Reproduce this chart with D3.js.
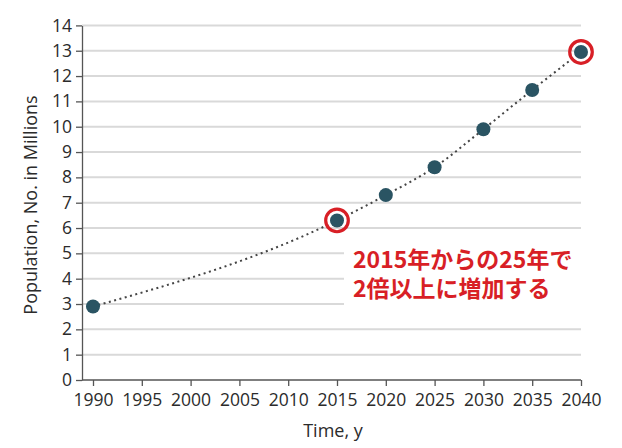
<!DOCTYPE html>
<html><head><meta charset="utf-8">
<script src="https://cdn.jsdelivr.net/npm/d3@7"></script>
<style>
html,body{margin:0;padding:0;background:#fff;}
svg{display:block;}
.tick text{font-family:"Open Sans","Noto Sans",sans-serif;font-size:17.5px;fill:#2b2b2b;}
</style></head>
<body><svg id="c" width="622" height="448"></svg>
<script>
const years = [1990, 2015, 2020, 2025, 2030, 2035, 2040];
const population = [2.9, 6.3, 7.3, 8.4, 9.9, 11.45, 12.95];
const highlighted = [2015, 2040];
const xTicks = [1990, 1995, 2000, 2005, 2010, 2015, 2020, 2025, 2030, 2035, 2040];
const yTicks = [0,1,2,3,4,5,6,7,8,9,10,11,12,13,14];
const annotation = ["2015年からの25年で", "2倍以上に増加する"];
const xTitle = "Time, y";
const yTitle = "Population, No. in Millions";

const svg = d3.select("#c");
const axisX0 = 82, plotRight = 581, plotBottom = 380, plotTop = 25.4;
const x = d3.scaleLinear().domain([1990, 2040]).range([93, plotRight]);
const y = d3.scaleLinear().domain([0, 14]).range([plotBottom, plotTop]);
const font = '"Open Sans","Noto Sans",sans-serif';

// gridlines
svg.append("g").selectAll("line").data(yTicks.filter(d => d > 0)).join("line")
  .attr("x1", axisX0).attr("x2", plotRight)
  .attr("y1", d => y(d)).attr("y2", d => y(d))
  .attr("stroke", "#d9d9d9").attr("stroke-width", 2);

// annotation box covering gridlines
svg.append("rect").attr("x", 344).attr("y", 236).attr("width", 260).attr("height", 82).attr("fill", "#fff");
const ann = svg.append("text").attr("font-family", '"Noto Sans CJK JP",sans-serif')
  .attr("font-weight", "bold").attr("font-size", 23).attr("fill", "#d81f26");
annotation.forEach((t, i) => ann.append("tspan").attr("x", 353).attr("y", 268 + i * 28.5).text(t));

// axes
const yAxis = svg.append("g").attr("transform", `translate(${axisX0},0)`)
  .call(d3.axisLeft(y).tickValues(yTicks).tickSize(6).tickSizeOuter(0).tickPadding(4));
yAxis.selectAll("path,line").attr("stroke", "#555").attr("stroke-width", 1.3);

const xAxis = svg.append("g").attr("transform", `translate(0,${plotBottom})`)
  .call(d3.axisBottom(x).tickValues(xTicks).tickFormat(d3.format("d")).tickSize(6).tickPadding(8));
xAxis.select(".domain").remove();
xAxis.selectAll("line").attr("stroke", "#555").attr("stroke-width", 1.3);
svg.append("line").attr("x1", axisX0).attr("x2", plotRight).attr("y1", plotBottom).attr("y2", plotBottom)
  .attr("stroke", "#555").attr("stroke-width", 1.3);

// titles
svg.append("text").attr("x", 333).attr("y", 437).attr("text-anchor", "middle")
  .attr("font-family", font).attr("font-size", 18).attr("fill", "#2b2b2b").text(xTitle);
svg.append("text").attr("transform", "translate(37,205) rotate(-90)").attr("text-anchor", "middle")
  .attr("font-family", font).attr("font-size", 18).attr("fill", "#2b2b2b").text(yTitle);

// dotted curve
const pts = years.map((yr, i) => [yr, population[i]]);
svg.append("path").datum(pts)
  .attr("d", d3.line().x(d => x(d[0])).y(d => y(d[1])).curve(d3.curveMonotoneX))
  .attr("fill", "none").attr("stroke", "#444").attr("stroke-width", 2)
  .attr("stroke-dasharray", "2,3.5");

// points
svg.append("g").selectAll("circle").data(pts).join("circle")
  .attr("cx", d => x(d[0])).attr("cy", d => y(d[1])).attr("r", 7)
  .attr("fill", "#2a5463");

// highlight rings
svg.append("g").selectAll("circle").data(pts.filter(d => highlighted.includes(d[0]))).join("circle")
  .attr("cx", d => x(d[0])).attr("cy", d => y(d[1])).attr("r", 11.3)
  .attr("fill", "none").attr("stroke", "#d81f26").attr("stroke-width", 3.2);
</script></body></html>
